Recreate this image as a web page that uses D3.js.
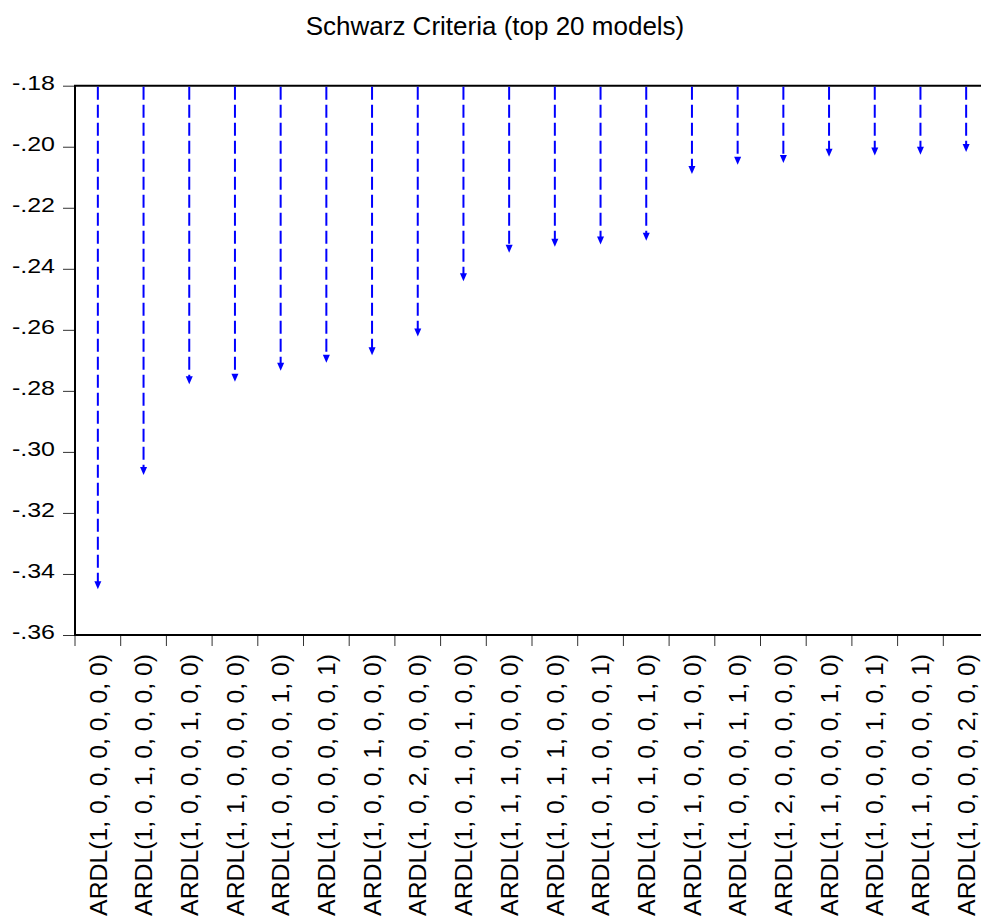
<!DOCTYPE html>
<html>
<head>
<meta charset="utf-8">
<script src="https://cdn.jsdelivr.net/npm/d3@7"></script>
<style>
  html, body { margin: 0; padding: 0; background: #fff; }
  svg { display: block; font-family: "Liberation Sans", Arial, sans-serif; }
</style>
</head>
<body>
<svg id="chart" width="981" height="922"></svg>
<script>
// Model specifications, ranked by Schwarz criterion
const models = [
  "ARDL(1, 0, 0, 0, 0, 0, 0)",
  "ARDL(1, 0, 1, 0, 0, 0, 0)",
  "ARDL(1, 0, 0, 0, 1, 0, 0)",
  "ARDL(1, 1, 0, 0, 0, 0, 0)",
  "ARDL(1, 0, 0, 0, 0, 1, 0)",
  "ARDL(1, 0, 0, 0, 0, 0, 1)",
  "ARDL(1, 0, 0, 1, 0, 0, 0)",
  "ARDL(1, 0, 2, 0, 0, 0, 0)",
  "ARDL(1, 0, 1, 0, 1, 0, 0)",
  "ARDL(1, 1, 1, 0, 0, 0, 0)",
  "ARDL(1, 0, 1, 1, 0, 0, 0)",
  "ARDL(1, 0, 1, 0, 0, 0, 1)",
  "ARDL(1, 0, 1, 0, 0, 1, 0)",
  "ARDL(1, 1, 0, 0, 1, 0, 0)",
  "ARDL(1, 0, 0, 0, 1, 1, 0)",
  "ARDL(1, 2, 0, 0, 0, 0, 0)",
  "ARDL(1, 1, 0, 0, 0, 1, 0)",
  "ARDL(1, 0, 0, 0, 1, 0, 1)",
  "ARDL(1, 1, 0, 0, 0, 0, 1)",
  "ARDL(1, 0, 0, 0, 2, 0, 0)"
];

// Schwarz criterion value of each model
const schwarz = [
  -0.3450, -0.3076, -0.2778, -0.2770, -0.2734,
  -0.2708, -0.2683, -0.2622, -0.2441, -0.2347,
  -0.2328, -0.2320, -0.2308, -0.2089, -0.2059,
  -0.2053, -0.2033, -0.2029, -0.2026, -0.2017
];

// Value axis ticks
const yTicks = [-0.18, -0.20, -0.22, -0.24, -0.26, -0.28, -0.30, -0.32, -0.34, -0.36];

const titleText = "Schwarz Criteria (top 20 models)";

const svg = d3.select("#chart");

const plot = { left: 75, right: 989, top: 85.7, bottom: 635 };

const y = d3.scaleLinear()
  .domain([d3.min(yTicks), d3.max(yTicks)])
  .range([plot.bottom, plot.top]);

const x = d3.scaleBand()
  .domain(models)
  .range([plot.left, plot.right]);

// "-.18" style: plain hyphen, no leading zero
const fmt = v => d3.format(".2f")(v).replace("\u2212", "-").replace("0.", ".");

// Title
svg.append("text")
  .attr("x", 495)
  .attr("y", 35)
  .attr("text-anchor", "middle")
  .attr("font-size", 26)
  .attr("fill", "#000")
  .text(titleText);

// Y axis with ticks and labels
const yAxis = svg.append("g")
  .attr("transform", `translate(${plot.left},0)`)
  .call(d3.axisLeft(y).tickValues(yTicks).tickSize(12).tickPadding(0).tickFormat(fmt));
yAxis.select(".domain").remove();
yAxis.selectAll(".tick line").attr("stroke", "#333").attr("stroke-width", 1);
yAxis.selectAll(".tick text")
  .attr("x", null).attr("dy", null)
  .attr("text-anchor", "end")
  .attr("font-size", 21)
  .attr("fill", "#000")
  .attr("font-family", "\"Liberation Sans\", Arial, sans-serif")
  .attr("transform", "translate(-20,3.5) scale(1.19,1)");

// X axis: ticks at category boundaries, labels rotated at centres
const xAxis = svg.append("g")
  .attr("transform", `translate(0,${plot.bottom})`);
xAxis.selectAll("line.tick")
  .data(models)
  .join("line")
  .attr("class", "tick")
  .attr("x1", d => x(d)).attr("x2", d => x(d))
  .attr("y1", 0).attr("y2", 11)
  .attr("stroke", "#333").attr("stroke-width", 1);
xAxis.selectAll("text.lbl")
  .data(models)
  .join("text")
  .attr("class", "lbl")
  .attr("transform", d => `translate(${x(d) + x.bandwidth() / 2},19) rotate(-90)`)
  .attr("dy", "0.35em")
  .attr("text-anchor", "end")
  .attr("font-size", 24.8)
  .attr("fill", "#000")
  .text(d => d);

// Frame: left, top and bottom axis lines
svg.append("line")
  .attr("x1", plot.left).attr("x2", plot.left)
  .attr("y1", plot.top).attr("y2", plot.bottom)
  .attr("stroke", "#000").attr("stroke-width", 2);
svg.append("line")
  .attr("x1", plot.left - 1).attr("x2", plot.right)
  .attr("y1", plot.top).attr("y2", plot.top)
  .attr("stroke", "#000").attr("stroke-width", 2);
svg.append("line")
  .attr("x1", plot.left - 1).attr("x2", plot.right)
  .attr("y1", plot.bottom).attr("y2", plot.bottom)
  .attr("stroke", "#000").attr("stroke-width", 2);

// Drop arrows from the top of the scale down to each model's value
const headLen = 8, headHalf = 3.5;
const arrows = svg.append("g").attr("class", "arrows");
arrows.selectAll("line")
  .data(schwarz)
  .join("line")
  .attr("x1", (d, i) => x(models[i]) + x.bandwidth() / 2)
  .attr("x2", (d, i) => x(models[i]) + x.bandwidth() / 2)
  .attr("y1", y(d3.max(yTicks)) + 1)
  .attr("y2", d => y(d) - headLen + 1)
  .attr("stroke", "#0000ff")
  .attr("stroke-width", 2)
  .attr("stroke-dasharray", "13,5");
arrows.selectAll("path")
  .data(schwarz)
  .join("path")
  .attr("d", (d, i) => {
    const cx = x(models[i]) + x.bandwidth() / 2;
    const ty = y(d);
    return `M${cx - headHalf},${ty - headLen}L${cx + headHalf},${ty - headLen}L${cx},${ty}Z`;
  })
  .attr("fill", "#0000ff");
</script>
</body>
</html>
